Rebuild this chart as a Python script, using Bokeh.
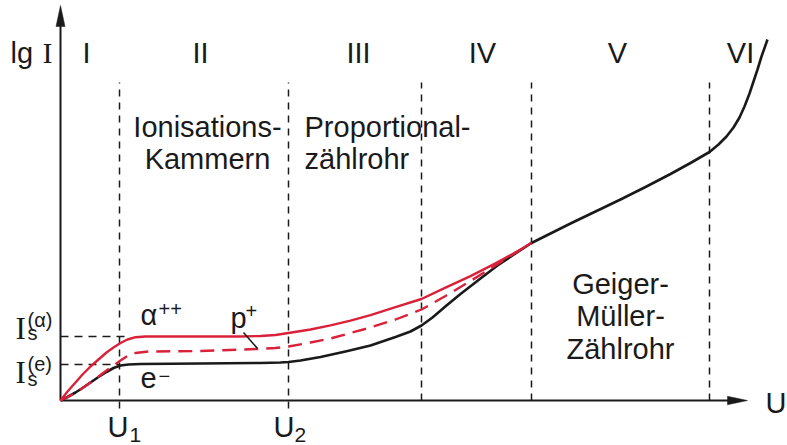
from bokeh.plotting import figure
from bokeh.models import Range1d
from bokeh.core.properties import value
from bokeh.embed import file_html
from bokeh.resources import INLINE

# Characteristic of a gas-filled detector: lg I versus counter voltage U
u_black = [0, 7, 15, 22, 30, 38, 46, 53, 60, 68, 80, 140, 200, 220, 228, 240, 260, 285, 310,
           335, 350, 361, 372, 386, 400, 420, 437, 455, 471, 490, 510, 535, 560, 585, 610,
           630, 649, 658, 666, 673, 679, 684, 689, 693, 697, 701, 707]
lgi_black = [0, 3.5, 8, 12.5, 18, 23.5, 28.5, 32.5, 35, 36, 36.5, 37, 37.5, 38, 38.5, 40, 43.5,
             49, 55, 63.5, 69, 75, 83, 95, 106.5, 122, 135, 147, 157.5, 167, 177, 189, 201,
             213.5, 226.5, 237.5, 248.5, 256, 264, 273, 283, 294, 307, 319, 331, 344, 361]

u_alpha = [0, 7, 15, 22, 30, 38, 46, 53, 60, 67, 75, 85, 140, 180, 200, 215, 228, 250, 270,
           290, 310, 335, 361, 385, 410, 435, 460, 471]
lgi_alpha = [0, 9, 18, 26, 34, 41, 48, 53, 57.5, 61, 63.3, 64, 64, 64, 64.5, 65.5, 67.5, 71,
             75.1, 79.8, 85.3, 93.3, 101.5, 112.8, 124.4, 137.1, 150.9, 157.7]

u_proton = [0, 10, 20, 30, 38, 46, 53, 60, 67, 75, 88, 140, 197, 215, 228, 250, 270, 290, 310,
            335, 361, 385, 410, 430, 450, 471]
lgi_proton = [0, 5, 11, 18, 24, 30, 35, 40, 44.5, 47.5, 49, 49.5, 51.5, 52.5, 54, 58, 62, 67.5,
              73, 81, 91, 104.5, 119.5, 132, 144.5, 157.7]

# region boundaries (U1, U2, ...) and saturation currents
u_bounds = [59, 228, 361, 471, 649]
sat_alpha = 64
sat_e = 36
region_names = ["I", "II", "III", "IV", "V", "VI"]
region_x = [26, 140, 298, 422, 557, 680]

RED = "#d9213a"
BLACK = "#1a1a1a"
SANS = value("Liberation Sans")
SERIF = value("Liberation Serif")
BIG = "29px"
SMALL = "20px"

x_end, y_end = 687, 395

p = figure(width=787, height=445, output_backend="svg", toolbar_location=None,
           x_range=Range1d(-60, 727), y_range=Range1d(-45, 400),
           x_axis_location=None, y_axis_location=None,
           min_border=0, min_border_left=0, min_border_right=0,
           min_border_top=0, min_border_bottom=0)
p.grid.visible = False
p.outline_line_color = None
p.background_fill_color = "white"
p.border_fill_color = "white"


def label(x, y, text, size=BIG, font=SANS, align="left"):
    p.text(x=x, y=y, text=text, text_font=font, text_font_size=size,
           text_align=align, text_baseline="middle", text_color=BLACK)


# region boundaries
y0s = [-8, -8, 0, 0, 0]
p.segment(x0=u_bounds, y0=y0s, x1=u_bounds, y1=[318] * 5,
          line_color=BLACK, line_width=1.5, line_dash="7 6")
# saturation-current guides
p.segment(x0=[0, 0], y0=[sat_alpha, sat_e], x1=[u_bounds[0] + 5, u_bounds[0]],
          y1=[sat_alpha, sat_e], line_color=BLACK, line_width=1.5, line_dash="8 6")

# axes with arrow heads
p.segment(x0=[0, 0], y0=[0, 0], x1=[x_end - 10, 0], y1=[0, y_end - 10],
          line_color=BLACK, line_width=2)
p.patches(xs=[[x_end, x_end - 20, x_end - 20], [0, -4.5, 4.5]],
          ys=[[0, 4.2, -4.2], [y_end, y_end - 21, y_end - 21]],
          fill_color=BLACK, line_color=BLACK, line_width=0.5)

# curves
p.line(u_black, lgi_black, line_color=BLACK, line_width=2.6, line_join="round")
p.line(u_alpha, lgi_alpha, line_color=RED, line_width=2.4, line_join="round")
p.line(u_proton, lgi_proton, line_color=RED, line_width=2.4, line_dash="14 8",
       line_join="round")
# pointer to the proton curve
p.segment(x0=[183], y0=[68], x1=[197], y1=[52], line_color=BLACK, line_width=1.5)

# region numerals
label(region_x, [348] * 6, region_names, align="center")

# axis labels
label([-50], [348], ["lg"])
label([-18], [348], ["I"], font=SERIF, size="30px")
label([705], [-2], ["U"])

# U1, U2
label([47, 213], [-26, -26], ["U", "U"])
label([69, 234], [-34, -34], ["1", "2"], size="21px")

# saturation current labels
label([-45, -45], [72, 28], ["I", "I"], font=SERIF, size="31px")
label([-33, -33], [68, 22], ["s", "s"], size=SMALL)
label([-33, -33], [81, 37], ["(α)", "(e)"], size=SMALL)

# particle labels
label([80, 80, 170], [86, 22.5, 83], ["α", "e", "p"])
label([98, 98, 185], [92, 25, 90], ["++", "−", "+"], size=SMALL)

# detector names
label([147, 147], [274, 242], ["Ionisations-", "Kammern"], align="center")
label([244, 244], [274, 242], ["Proportional-", "zählrohr"])
label([560, 560, 560], [117, 85, 52], ["Geiger-", "Müller-", "Zählrohr"], align="center")

open("out.html", "w").write(file_html(p, INLINE))
